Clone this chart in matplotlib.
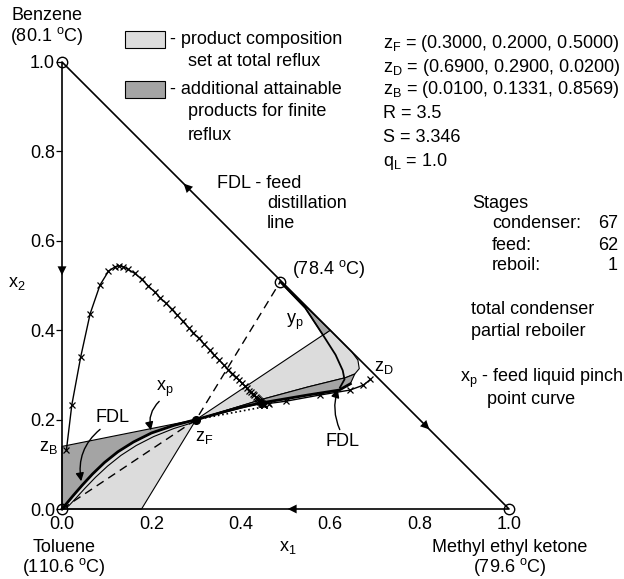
import matplotlib
matplotlib.use("Agg")
import matplotlib.pyplot as plt
from matplotlib.patches import Polygon, Rectangle

plt.rcParams["font.family"] = ["Liberation Sans", "DejaVu Sans"]
plt.rcParams["font.size"] = 13

LIGHT = "#dcdcdc"
DARK = "#a4a4a4"

# triangle and pure component / azeotrope nodes
tri_x = [0.0, 1.0, 0.0, 0.0]
tri_y = [0.0, 0.0, 1.0, 0.0]
node_x = [0.0, 0.0, 1.0, 0.488]
node_y = [1.0, 0.0, 0.0, 0.508]

z_feed = (0.300, 0.200)
z_bot = (0.010, 0.133)
z_dist = (0.690, 0.290)
azeo = (0.488, 0.508)

# feed pinch curve towards toluene (shared edge of left regions)
pinch_left_x = [0.300, 0.250, 0.200, 0.160, 0.125, 0.095, 0.068, 0.045, 0.025, 0.010, 0.0]
pinch_left_y = [0.200, 0.187, 0.170, 0.150, 0.128, 0.104, 0.078, 0.053, 0.030, 0.012, 0.0]

# total reflux region (light gray)
light_left_x = [0.0, 0.178] + pinch_left_x
light_left_y = [0.0, 0.0] + pinch_left_y
light_right_x = [0.300, 0.600, 0.648, 0.662, 0.665, 0.655, 0.635, 0.550, 0.450, 0.300]
light_right_y = [0.200, 0.400, 0.352, 0.333, 0.314, 0.302, 0.294, 0.273, 0.246, 0.200]

# additional attainable products (dark gray)
dark_left_x = [0.0, 0.0] + pinch_left_x
dark_left_y = [0.0, 0.140] + pinch_left_y
dark_top_x = [0.488, 0.600, 0.584, 0.544, 0.488]
dark_top_y = [0.508, 0.400, 0.389, 0.450, 0.508]
dark_band_x = [0.300, 0.450, 0.550, 0.635, 0.655, 0.645, 0.620, 0.550, 0.450, 0.300]
dark_band_y = [0.200, 0.246, 0.273, 0.294, 0.302, 0.280, 0.266, 0.255, 0.238, 0.200]

# pinch curves
yp_x = [0.488, 0.544, 0.584, 0.612, 0.628, 0.632, 0.622]
yp_y = [0.508, 0.450, 0.389, 0.345, 0.310, 0.290, 0.272]
fdl_right_x = [0.300, 0.400, 0.450, 0.550, 0.620, 0.645]
fdl_right_y = [0.200, 0.228, 0.238, 0.255, 0.266, 0.280]
fdl_left2_x = [0.292, 0.250, 0.205, 0.166, 0.132, 0.102, 0.075, 0.051, 0.031, 0.015, 0.004]
fdl_left2_y = [0.193, 0.180, 0.162, 0.142, 0.120, 0.096, 0.071, 0.046, 0.024, 0.007, 0.0]

# column profile, stages 1 (reboiler) .. 67 (condenser)
prof_x = [0.010, 0.022, 0.042, 0.063, 0.085, 0.104, 0.119, 0.128, 0.137, 0.148,
          0.163, 0.178, 0.193, 0.207, 0.219, 0.233, 0.245, 0.258, 0.270, 0.283,
          0.294, 0.306, 0.318, 0.330, 0.341, 0.352, 0.362, 0.372, 0.381, 0.389,
          0.396, 0.403, 0.409, 0.414, 0.419, 0.423, 0.427, 0.430, 0.433, 0.436,
          0.438, 0.440, 0.442, 0.444, 0.445, 0.446, 0.447, 0.448, 0.448, 0.449,
          0.449, 0.449, 0.450, 0.450, 0.450, 0.450, 0.450, 0.451, 0.451, 0.451,
          0.451, 0.462, 0.500, 0.577, 0.644, 0.674, 0.690]
prof_y = [0.133, 0.233, 0.341, 0.437, 0.501, 0.532, 0.542, 0.544, 0.542, 0.536,
          0.527, 0.514, 0.499, 0.486, 0.473, 0.460, 0.447, 0.434, 0.420, 0.406,
          0.394, 0.382, 0.369, 0.356, 0.344, 0.333, 0.322, 0.312, 0.303, 0.295,
          0.288, 0.281, 0.275, 0.270, 0.265, 0.261, 0.257, 0.254, 0.251, 0.248,
          0.246, 0.244, 0.242, 0.240, 0.239, 0.238, 0.237, 0.236, 0.236, 0.235,
          0.235, 0.235, 0.234, 0.234, 0.234, 0.234, 0.234, 0.233, 0.233, 0.233,
          0.233, 0.236, 0.241, 0.255, 0.266, 0.277, 0.290]

ticks = [0.0, 0.2, 0.4, 0.6, 0.8, 1.0]
tick_labels = ["0.0", "0.2", "0.4", "0.6", "0.8", "1.0"]

W, H = 624, 579
fig = plt.figure(figsize=(W / 100, H / 100), dpi=100)

# overlay for free text in pixel units
bg = fig.add_axes([0, 0, 1, 1])
bg.set_xlim(0, W)
bg.set_ylim(H, 0)
bg.axis("off")

ox, oy, scale = 62, 509, 447
ax = fig.add_axes([ox / W, (H - oy) / H, scale / W, scale / H])
ax.patch.set_visible(False)
ax.set_xlim(0, 1)
ax.set_ylim(0, 1)
for sp in ax.spines.values():
    sp.set_visible(False)
ax.set_xticks(ticks, tick_labels)
ax.set_yticks(ticks, tick_labels)
ax.tick_params(axis="x", length=0, pad=5)
ax.tick_params(axis="y", length=4, pad=1, width=0.9)

kw = dict(clip_on=False)
for xs, ys, c in [(light_left_x, light_left_y, LIGHT), (light_right_x, light_right_y, LIGHT),
                  (dark_left_x, dark_left_y, DARK), (dark_top_x, dark_top_y, DARK),
                  (dark_band_x, dark_band_y, DARK)]:
    ax.add_patch(Polygon(list(zip(xs, ys)), closed=True, facecolor=c, edgecolor="k",
                         lw=0.8, zorder=1, **kw))

ax.plot(tri_x, tri_y, color="k", lw=1.2, zorder=3, **kw)
ax.plot([0, z_feed[0], azeo[0]], [0, z_feed[1], azeo[1]], color="k", lw=1.0,
        ls=(0, (6, 4)), zorder=2, **kw)
ax.plot([z_feed[0], 0.470], [z_feed[1], 0.232], color="k", lw=1.2, ls=":", zorder=2, **kw)

ax.plot(yp_x, yp_y, color="k", lw=1.3, zorder=4, **kw)
ax.plot(fdl_right_x, fdl_right_y, color="k", lw=2.0, zorder=4, **kw)
ax.plot(pinch_left_x, pinch_left_y, color="k", lw=2.0, zorder=4, **kw)
ax.plot(fdl_left2_x, fdl_left2_y, color="k", lw=0.8, zorder=4, **kw)

ax.plot(prof_x, prof_y, color="k", lw=1.0, marker="x", ms=4.5, mew=0.9, zorder=5, **kw)
ax.plot(node_x, node_y, ls="none", marker="o", ms=7.5, mfc="none", mec="k", mew=1.0,
        zorder=6, **kw)
ax.plot([z_feed[0]], [z_feed[1]], ls="none", marker="o", ms=5.5, color="k", zorder=6, **kw)

# direction arrows along the triangle edges
arr = dict(arrowstyle="-|>", color="k", lw=0, mutation_scale=16, shrinkA=0, shrinkB=0)
for tip, tail in [((0.0, 0.523), (0.0, 0.56)), ((0.272, 0.728), (0.30, 0.70)),
                  ((0.822, 0.178), (0.795, 0.205)), ((0.505, 0.0), (0.545, 0.0))]:
    ax.annotate("", xy=tip, xytext=tail, arrowprops=arr, annotation_clip=False)

# curved pointer arrows
ptr = dict(arrowstyle="-|>", color="k", lw=1.0, mutation_scale=12, shrinkA=2, shrinkB=0)
ax.annotate("", xy=(0.199, 0.176), xytext=(0.222, 0.245),
            arrowprops=dict(ptr, connectionstyle="arc3,rad=0.3"), annotation_clip=False)
ax.annotate("", xy=(0.043, 0.062), xytext=(0.090, 0.182),
            arrowprops=dict(ptr, connectionstyle="arc3,rad=0.3"), annotation_clip=False)
ax.annotate("", xy=(0.617, 0.268), xytext=(0.624, 0.172),
            arrowprops=dict(ptr, connectionstyle="arc3,rad=-0.2"), annotation_clip=False)

sub = r"$\mathregular{%s_{%s}}$"
ax.text(0.229, 0.268, sub % ("x", "p"), ha="center", va="center", **kw)
ax.text(0.112, 0.205, "FDL", ha="center", va="center", **kw)
ax.text(0.627, 0.150, "FDL", ha="center", va="center", **kw)
ax.text(0.318, 0.160, sub % ("z", "F"), ha="center", va="center", **kw)
ax.text(-0.010, 0.137, sub % ("z", "B"), ha="right", va="center", **kw)
ax.text(0.720, 0.316, sub % ("z", "D"), ha="center", va="center", **kw)
ax.text(0.522, 0.418, sub % ("y", "p"), ha="center", va="center", **kw)
ax.text(0.515, 0.537, r"(78.4 $\mathregular{^o}$C)", ha="left", va="center", **kw)

# labels in pixel space
deg = r"$\mathregular{^o}$C"
bg.text(47, 15, "Benzene", ha="center", va="center")
bg.text(47, 36, "(80.1 " + deg + ")", ha="center", va="center")
bg.text(64, 547, "Toluene", ha="center", va="center")
bg.text(64, 567, "(110.6 " + deg + ")", ha="center", va="center")
bg.text(510, 547, "Methyl ethyl ketone", ha="center", va="center")
bg.text(510, 567, "(79.6 " + deg + ")", ha="center", va="center")
bg.text(288, 548, sub % ("x", "1"), ha="center", va="center")
bg.text(17, 283, sub % ("x", "2"), ha="center", va="center")

bg.add_patch(Rectangle((125, 31), 40, 17, facecolor=LIGHT, edgecolor="k", lw=0.8))
bg.add_patch(Rectangle((125, 81), 40, 17, facecolor=DARK, edgecolor="k", lw=0.8))
bg.text(170, 39, "- product composition", ha="left", va="center")
bg.text(188, 62, "set at total reflux", ha="left", va="center")
bg.text(170, 89, "- additional attainable", ha="left", va="center")
bg.text(188, 112, "products for finite", ha="left", va="center")
bg.text(188, 135, "reflux", ha="left", va="center")

bg.text(217, 183, "FDL - feed", ha="left", va="center")
bg.text(267, 203, "distillation", ha="left", va="center")
bg.text(267, 223, "line", ha="left", va="center")

right_lines = [
    (43, sub % ("z", "F") + " = (0.3000, 0.2000, 0.5000)"),
    (67, sub % ("z", "D") + " = (0.6900, 0.2900, 0.0200)"),
    (90, sub % ("z", "B") + " = (0.0100, 0.1331, 0.8569)"),
    (114, "R = 3.5"),
    (138, "S = 3.346"),
    (161, sub % ("q", "L") + " = 1.0"),
]
for y, s in right_lines:
    bg.text(383, y, s, ha="left", va="center")

bg.text(472, 203, "Stages", ha="left", va="center")
for y, lab, val in [(224, "condenser:", "67"), (245, "feed:", "62"), (266, "reboil:", "1")]:
    bg.text(492, y, lab, ha="left", va="center")
    bg.text(618, y, val, ha="right", va="center")
bg.text(471, 310, "total condenser", ha="left", va="center")
bg.text(471, 332, "partial reboiler", ha="left", va="center")
bg.text(460, 378, sub % ("x", "p") + " - feed liquid pinch", ha="left", va="center")
bg.text(487, 400, "point curve", ha="left", va="center")

fig.savefig("out.png", dpi=100)
